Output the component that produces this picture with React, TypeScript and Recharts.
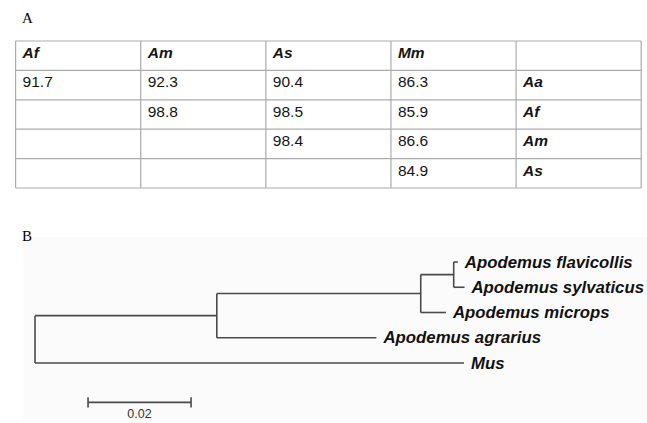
import React from "react";
import { ScatterChart, Scatter, XAxis, YAxis, CartesianGrid, ReferenceLine } from "recharts";

// Panel A: percent identity table
const columnLabels = ["Af", "Am", "As", "Mm"];
const rowLabels = ["Aa", "Af", "Am", "As"];
const rowAa = [91.7, 92.3, 90.4, 86.3];
const rowAf = [null, 98.8, 98.5, 85.9];
const rowAm = [null, null, 98.4, 86.6];
const rowAs = [null, null, null, 84.9];
const identityRows: (number | null)[][] = [rowAa, rowAf, rowAm, rowAs];
const tableTicks = [0, 1, 2, 3, 4, 5];

// Panel B: neighbour-joining tree (branch lengths in substitutions/site)
const tipNames = ["Apodemus flavicollis", "Apodemus sylvaticus", "Apodemus microps", "Apodemus agrarius", "Mus"];
const tipParents = ["fs", "fs", "clade", "apo", "root"];
const tipLengths = [0.0008, 0.0021, 0.0049, 0.031, 0.0833];
const innerNodes = ["fs", "clade", "apo"];
const innerParents = ["clade", "apo", "root"];
const innerLengths = [0.0064, 0.0396, 0.0353];
const scaleBarStart = 0.0103;
const scaleBarLength = 0.02;
const scaleBarRow = 5.56;

type Cell = { col: number; row: number; text: string; bold: boolean };
const tableCells: Cell[] = [];
columnLabels.forEach((t, i) => tableCells.push({ col: i, row: 0, text: t, bold: true }));
rowLabels.forEach((t, r) => {
  identityRows[r].forEach((v, c) => {
    if (v != null) tableCells.push({ col: c, row: r + 1, text: v.toFixed(1), bold: false });
  });
  tableCells.push({ col: 4, row: r + 1, text: t, bold: true });
});

// build node positions
const parentOf: Record<string, string> = {};
const lengthOf: Record<string, number> = {};
tipNames.forEach((n, i) => {
  parentOf[n] = tipParents[i];
  lengthOf[n] = tipLengths[i];
});
innerNodes.forEach((n, i) => {
  parentOf[n] = innerParents[i];
  lengthOf[n] = innerLengths[i];
});
const depth = (n: string): number => (n === "root" ? 0 : depth(parentOf[n]) + lengthOf[n]);
const allNodes = [...tipNames, ...innerNodes, "root"];
const childrenOf = (n: string) => allNodes.filter((c) => parentOf[c] === n);
const rowOf = (n: string): number => {
  const i = tipNames.indexOf(n);
  if (i >= 0) return i;
  const ys = childrenOf(n).map(rowOf);
  return (Math.min(...ys) + Math.max(...ys)) / 2;
};

type Seg = { x1: number; y1: number; x2: number; y2: number };
const branches: Seg[] = [];
allNodes.forEach((n) => {
  if (n !== "root") {
    const y = rowOf(n);
    branches.push({ x1: depth(parentOf[n]), y1: y, x2: depth(n), y2: y });
  }
  const kids = childrenOf(n);
  if (kids.length) {
    const ys = kids.map(rowOf);
    branches.push({ x1: depth(n), y1: Math.min(...ys), x2: depth(n), y2: Math.max(...ys) });
  }
});
const tips = tipNames.map((n) => ({ x: depth(n), y: rowOf(n), name: n }));

const sans = "'Liberation Sans', Arial, sans-serif";
const lineColor = "#4a4a4a";

export default function App() {
  return (
    <div style={{ position: "absolute", left: 0, top: 0, width: 647, height: 423, background: "#fff" }}>
      <div style={{ position: "absolute", left: 22, top: 11.4, fontFamily: "'Liberation Serif', serif", fontSize: 15, lineHeight: "15px", color: "#000" }}>A</div>
      <div style={{ position: "absolute", left: 23, top: 237, width: 624, height: 183, background: "#fbfbfb" }} />
      <div style={{ position: "absolute", left: 22, top: 229.4, fontFamily: "'Liberation Serif', serif", fontSize: 15, lineHeight: "15px", color: "#000" }}>B</div>

      <div style={{ position: "absolute", left: 0, top: 0 }}>
        <ScatterChart width={647} height={200} margin={{ top: 41, right: 5.8, bottom: 12, left: 15.6 }}>
          <CartesianGrid stroke="#ababab" strokeWidth={1.2} fill="none" />
          <XAxis type="number" dataKey="col" domain={[0, 5]} ticks={tableTicks} hide />
          <YAxis type="number" dataKey="row" domain={[0, 5]} ticks={tableTicks} reversed hide />
          <Scatter
            data={tableCells}
            isAnimationActive={false}
            shape={(p: any) => (
              <text
                x={p.cx + 7}
                y={p.cy + 11.5}
                dominantBaseline="central"
                fontFamily={sans}
                fontSize={15.5}
                fontWeight={p.payload.bold ? "bold" : "normal"}
                fontStyle={p.payload.bold ? "italic" : "normal"}
                fill="#151515"
              >
                {p.payload.text}
              </text>
            )}
          />
        </ScatterChart>
      </div>

      <div style={{ position: "absolute", left: 0, top: 230 }}>
        <ScatterChart width={647} height={193} margin={{ top: 32, right: 97, bottom: 9.5, left: 35 }}>
          <XAxis type="number" dataKey="x" domain={[0, 0.1]} hide />
          <YAxis type="number" dataKey="y" domain={[0, 6]} reversed hide />
          {branches.map((b, i) => (
            <ReferenceLine
              key={i}
              segment={[{ x: b.x1, y: b.y1 }, { x: b.x2, y: b.y2 }]}
              stroke={lineColor}
              strokeWidth={1.6}
              ifOverflow="visible"
            />
          ))}
          <ReferenceLine
            segment={[{ x: scaleBarStart, y: scaleBarRow }, { x: scaleBarStart + scaleBarLength, y: scaleBarRow }]}
            stroke={lineColor}
            strokeWidth={1.6}
            ifOverflow="visible"
          />
          <ReferenceLine
            segment={[{ x: scaleBarStart, y: scaleBarRow - 0.2 }, { x: scaleBarStart, y: scaleBarRow + 0.2 }]}
            stroke={lineColor}
            strokeWidth={1.6}
            ifOverflow="visible"
          />
          <ReferenceLine
            segment={[{ x: scaleBarStart + scaleBarLength, y: scaleBarRow - 0.2 }, { x: scaleBarStart + scaleBarLength, y: scaleBarRow + 0.2 }]}
            stroke={lineColor}
            strokeWidth={1.6}
            ifOverflow="visible"
          />
          <Scatter
            data={tips}
            isAnimationActive={false}
            shape={(p: any) => (
              <text
                x={p.cx + 7}
                y={p.cy}
                dominantBaseline="central"
                fontFamily={sans}
                fontSize={16.8}
                fontWeight="bold"
                fontStyle="italic"
                fill="#111"
              >
                {p.payload.name}
              </text>
            )}
          />
          <Scatter
            data={[{ x: scaleBarStart + scaleBarLength / 2, y: scaleBarRow, label: String(scaleBarLength) }]}
            isAnimationActive={false}
            shape={(p: any) => (
              <text x={p.cx} y={p.cy + 12} textAnchor="middle" dominantBaseline="central" fontFamily={sans} fontSize={12.5} fill="#333">
                {p.payload.label}
              </text>
            )}
          />
        </ScatterChart>
      </div>
    </div>
  );
}
